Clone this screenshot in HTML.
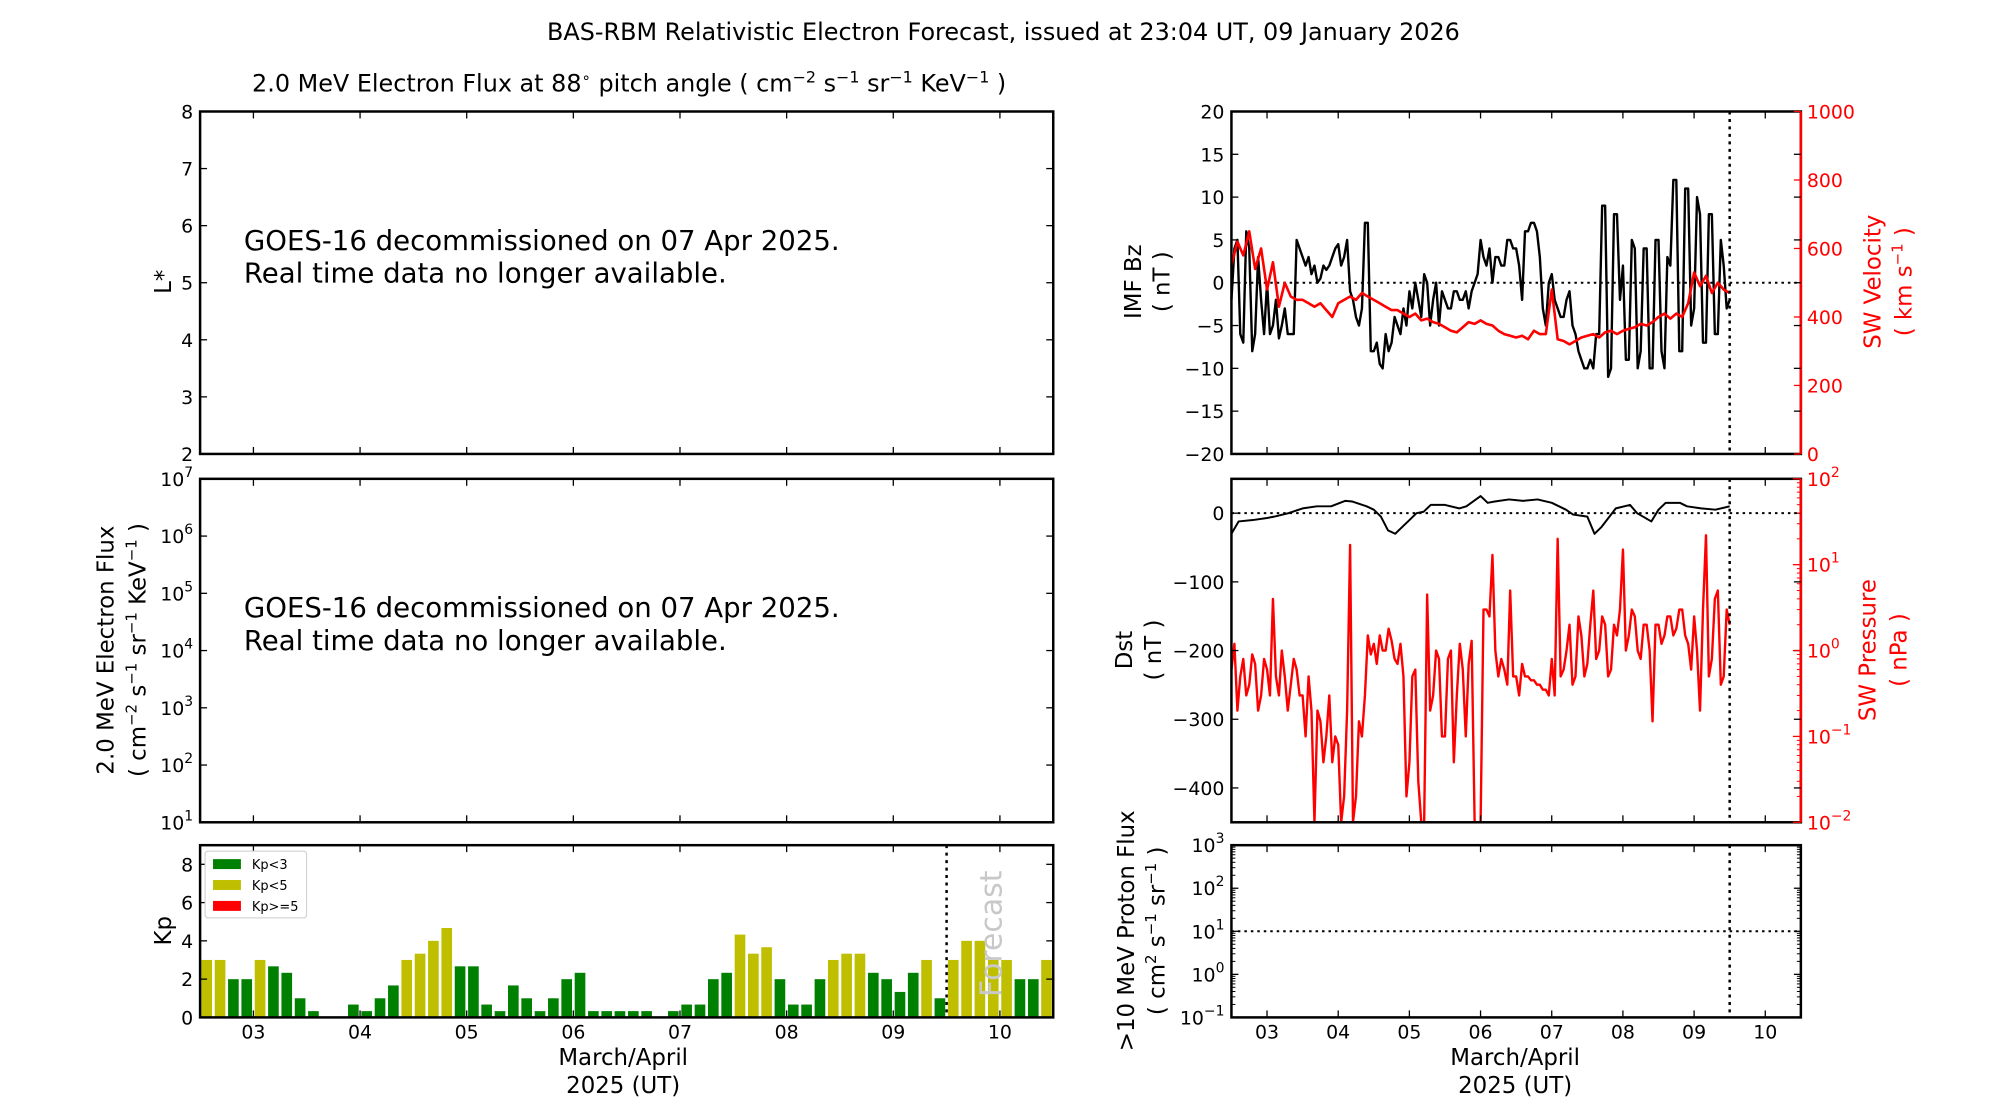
<!DOCTYPE html>
<html><head><meta charset="utf-8"><style>
html,body{margin:0;padding:0;background:#fff;}
svg{display:block;font-family:"DejaVu Sans","Liberation Sans",sans-serif;}
</style></head><body>
<svg id="fig" xmlns="http://www.w3.org/2000/svg" width="2000" height="1100" viewBox="0 0 2000 1100">
<rect width="2000" height="1100" fill="#fff"/>
<g transform="scale(0.9955)">
<text x="1008" y="40" font-size="24" text-anchor="middle">BAS-RBM Relativistic Electron Forecast, issued at 23:04 UT, 09 January 2026</text>
<text x="632" y="92" font-size="24" text-anchor="middle">2.0 MeV Electron Flux at 88<tspan dy="-9" font-size="15">∘</tspan><tspan dy="9"> pitch angle ( cm</tspan><tspan dy="-9" font-size="16">−2</tspan><tspan dy="9"> s</tspan><tspan dy="-9" font-size="16">−1</tspan><tspan dy="9"> sr</tspan><tspan dy="-9" font-size="16">−1</tspan><tspan dy="9"> KeV</tspan><tspan dy="-9" font-size="16">−1</tspan><tspan dy="9"> )</tspan></text>
<text x="245" y="251" font-size="27.7">GOES-16 decommissioned on 07 Apr 2025.</text>
<text x="245" y="284" font-size="27.7">Real time data no longer available.</text>
<text x="245" y="620" font-size="27.7">GOES-16 decommissioned on 07 Apr 2025.</text>
<text x="245" y="653" font-size="27.7">Real time data no longer available.</text>
<g id="g"></g>
</g>
</svg>
<script>
// ---- data ----
const kpValues=[3,3,2,2, 3,2.67,2.33,1,0.33,0,0,0.67, 0.33,1,1.67,3,3.33,4,4.67,2.67, 2.67,0.67,0.33,1.67,1,0.33,1,2, 2.33,0.33,0.33,0.33,0.33,0.33,0,0.33, 0.67,0.67,2,2.33,4.33,3.33,3.67,2, 0.67,0.67,2,3,3.33,3.33,2.33,2, 1.33,2.33,3,1, 3,4,4,3,3,2,2,3];
const dayTicks=['03','04','05','06','07','08','09','10'];
// hourly from day 2.5
const bzValues=[-2,4,5,-6,-7,6,4,-8,-6,3,-2,-6,
0,-6,-5,-2,-6.5,-5,-3,-6,-6,-6,5,4,
3,2,3,1,2,0,0.5,2,1.5,2,3,4,
4.5,2,3,5,-1,-2,-4,-5,-3,7,7,-8,
-8,-7,-9.5,-10,-6,-8,-7,-4,-5,-6,-3,-5,
-1,-3,0,-2,-4,1,0,-5,-2,0,-5,-1,
-2,-3,-3,-1,-1,-2,-2,-1,-3,-1,0,1,
5,3,2,4,0,3,3,2,2,5,5,4,
4,2,-2,6,6,7,7,6,3,-3,-5,0,
1,-2,-3,-4,-4,-2,-1,-5,-6,-8,-9,-10,
-10,-9,-10,-6,-6,9,9,-11,-10,8,8,-2,
2,-9,-9,5,4,-10,-8,4,4,-10,-10,5,
5,-8,-10,3,2,12,12,-8,-8,11,11,-5,
-3,10,8,-7,-7,8,8,-6,-6,5,2,-3,-2];
// 2-hourly from day 2.5
const swVelocity=[550,620,580,650,540,600, 480,560,430,500,460,450, 450,440,430,440,420,400, 440,450,460,450,470,460, 450,440,430,420,420,410, 400,410,390,395,385,380, 370,360,355,370,385,380, 390,380,375,360,350,345, 340,345,335,360,350,350, 480,335,330,320,330,340, 345,350,340,355,360,350, 360,365,370,380,375,385, 400,410,395,410,400,440, 530,490,520,470,500,480,470];
// hourly from day 2.5
const swPressure=[0.6,1.2,0.2,0.5,0.8,0.3,0.4,0.9,0.7,0.2,0.3,0.8,
0.6,0.3,4,0.5,0.3,1.0,0.5,0.2,0.4,0.8,0.6,0.3,
0.3,0.1,0.5,0.2,0.01,0.2,0.15,0.05,0.1,0.3,0.05,0.1,
0.08,0.01,0.02,0.2,17,0.01,0.02,0.15,0.1,0.3,1.5,0.9,
1.2,0.7,1.5,1.0,1.0,1.8,1.3,0.8,0.7,1.2,0.5,0.02,
0.05,0.5,0.6,0.03,0.01,0.01,4.5,0.2,0.3,1.0,0.8,0.1,
0.1,0.8,1.0,0.05,0.3,1.2,0.6,0.1,0.7,1.3,0.01,0.01,
0.01,3,3,2.5,13,1,0.5,0.8,0.6,0.4,5,0.5,
0.5,0.3,0.7,0.5,0.5,0.45,0.45,0.4,0.4,0.35,0.35,0.3,
0.8,0.3,20,0.5,0.6,1,2,0.4,0.5,2.5,1.5,0.5,
0.7,2,5,0.8,1.0,2.5,2,0.5,0.6,2,1.5,3,
15,1,1.5,3,2.5,1,0.8,2,2,1,0.15,2,
2,1.2,1.5,2.5,2.5,1.5,1.8,3,3,1.5,1.2,0.6,
2.5,1,0.2,3,22,0.5,0.8,4,5,0.4,0.5,3,2];
const dstTimes=[2.5,2.6,2.8,3.0,3.1,3.3,3.5,3.7,3.9,4.1,4.2,4.4,4.5,4.6,4.7,4.8,4.9,5.0,5.1,5.2,5.3,5.5,5.7,5.8,6.0,6.1,6.2,6.4,6.6,6.8,7.0,7.2,7.3,7.5,7.6,7.7,7.9,8.1,8.2,8.4,8.5,8.6,8.8,8.9,9.1,9.3,9.5];
const dstValues=[-30,-12,-10,-7,-5,0,7,10,10,18,17,10,5,-5,-25,-30,-20,-10,0,2,12,12,7,10,25,15,17,20,18,20,15,5,-2,-5,-30,-20,7,12,0,-12,5,15,15,10,7,5,10];
const kpColors={low:'#008000',mid:'#bfbf00',high:'#ff0000'};
// ---- layout / scales ----
const NS='http://www.w3.org/2000/svg';
const G=document.getElementById('g');
const LL=201,LR=1058,RL=1237,RR=1809;
const R1=[112,456],R2=[481,826],R3=[849,1022];
const T0=2.5,T1=10.5;
function xL(t){return LL+(t-T0)*(LR-LL)/(T1-T0);}
function xR(t){return RL+(t-T0)*(RR-RL)/(T1-T0);}
function yBz(v){return R1[0]+(20-v)*(R1[1]-R1[0])/40;}
function yV(v){return R1[1]-v*(R1[1]-R1[0])/1000;}
function yDst(v){return R2[0]+(50-v)*(R2[1]-R2[0])/500;}
function yP(v){return R2[0]+(2-Math.log10(v))*(R2[1]-R2[0])/4;}
function yPr(v){return R3[0]+(3-Math.log10(v))*(R3[1]-R3[0])/4;}
function yKp(v){return R3[1]-v*(R3[1]-R3[0])/9;}
function yLs(v){return R1[1]-(v-2)*(R1[1]-R1[0])/6;}
function yFl(e){return R2[1]-(e-1)*(R2[1]-R2[0])/6;}
function el(tag,attrs,parent){const e=document.createElementNS(NS,tag);for(const k in attrs)e.setAttribute(k,attrs[k]);(parent||G).appendChild(e);return e;}
function line(x1,y1,x2,y2,c,w,d){const e=el('line',{x1,y1,x2,y2,stroke:c||'#000','stroke-width':w||1.3});if(d)e.setAttribute('stroke-dasharray',d);return e;}
function txt(x,y,s,o){const e=el('text',Object.assign({x,y,'font-size':19},o||{}));e.textContent=s;return e;}
function frame(x1,x2,ys,name){const r=el('rect',{x:x1,y:ys[0],width:x2-x1,height:ys[1]-ys[0],fill:'none',stroke:'#000','stroke-width':2.5});}
function yTicks(x1,x2,ys,vals,fy,labFn,color,rightLab,rightColor){
  vals.forEach(v=>{const y=fy(v);line(x1,y,x1+7,y,'#000',1.3);line(x2-7,y,x2,y,rightColor||'#000',1.3);
    if(labFn){const t=el('text',{x:x1-7,y:y+7,'font-size':19,'text-anchor':'end',fill:color||'#000'});labFn(t,v);}});
}
function xTicks(fx,ys,labelY){
  for(let d=3;d<=10;d++){const x=fx(d);line(x,ys[1],x,ys[1]-7);line(x,ys[0],x,ys[0]+7);
    if(labelY){const t=txt(x,labelY,dayTicks[d-3],{'text-anchor':'middle'});}}
}
function plain(t,v){t.textContent=String(v).replace('-','−');}
function pow10(t,e){t.textContent='10';const s=el('tspan',{dy:-9,'font-size':14},t);s.textContent=String(e).replace('-','−');}
function vlabel(x,y,parts,color,name){const t=el('text',{x:0,y:0,'font-size':23,'text-anchor':'middle',fill:color||'#000',transform:`translate(${x},${y}) rotate(-90)`});
  parts.forEach(p=>{const s=el('tspan',p[1]?{dy:-9,'font-size':15}:{dy:p[2]||0},t);s.textContent=p[0];});
  return t;}
function polyline(pts,color,w,name){const p=el('polyline',{points:pts.map(a=>a[0].toFixed(1)+','+a[1].toFixed(1)).join(' '),fill:'none',stroke:color,'stroke-width':w,'stroke-linejoin':'round'});}

// ---- left panel 1: L* ----
frame(LL,LR,R1,'lstar-panel');
yTicks(LL,LR,R1,[2,3,4,5,6,7,8],yLs,plain);
xTicks(xL,R1,null);
vlabel(172,283,[['L*']],'#000','lstar-axis-title');
// ---- left panel 2: flux ----
frame(LL,LR,R2,'flux-panel');
yTicks(LL,LR,R2,[1,2,3,4,5,6,7],yFl,pow10);
xTicks(xL,R2,null);
vlabel(114,653,[['2.0 MeV Electron Flux']],'#000','flux-axis-title');
vlabel(146,653,[['( cm'],['−2',1],[' s',0,9],['−1',1],[' sr',0,9],['−1',1],[' KeV',0,9],['−1',1],[' )',0,9]],'#000','flux-axis-units');
// ---- Kp panel ----
const slot=(LR-LL)/(T1-T0)/8;
kpValues.forEach((v,i)=>{const t=T0+i/8;const x=xL(t)+slot*0.1;const c=v<3?kpColors.low:(v<5?kpColors.mid:kpColors.high);
  const r=el('rect',{x:x.toFixed(1),y:yKp(v).toFixed(1),width:(slot*0.8).toFixed(1),height:(yKp(0)-yKp(v)).toFixed(1),fill:c});
  
  });
frame(LL,LR,R3,'kp-panel');
yTicks(LL,LR,R3,[0,2,4,6,8],yKp,plain);
xTicks(xL,R3,1043);
line(xL(9.5),R3[0],xL(9.5),R3[1],'#000',2.5,'3,4.5');
const fc=el('text',{x:0,y:0,'font-size':30,fill:'#c8c8c8','text-anchor':'middle',transform:`translate(1006,938) rotate(-90)`});fc.textContent='Forecast';

vlabel(172,935,[['Kp']],'#000','kp-axis-title');
// legend
const lg=el('rect',{x:206,y:855,width:102,height:67,fill:'#fff',stroke:'#ccc','stroke-width':1,rx:3});

[['Kp<3',kpColors.low],['Kp<5',kpColors.mid],['Kp>=5',kpColors.high]].forEach((e,i)=>{const y=868+i*21;
  const r=el('rect',{x:214,y:y-5,width:28,height:10,fill:e[1]});
  const t=txt(253,y+5,e[0],{'font-size':13});});
txt(626,1070,'March/April',{'font-size':23,'text-anchor':'middle'});
txt(626,1098,'2025 (UT)',{'font-size':23,'text-anchor':'middle'});

// ---- right panel 1: Bz & V ----
line(RL,yBz(0),RR,yBz(0),'#000',2,'2.5,4');
polyline(bzValues.map((v,i)=>[xR(T0+i/24),yBz(v)]),'#000',2.4,'imf-bz-line');
polyline(swVelocity.map((v,i)=>[xR(T0+i/12),yV(v)]),'#ff0000',2.6,'sw-velocity-line');
line(xR(9.5),R1[0],xR(9.5),R1[1],'#000',2.5,'3,4.5');
frame(RL,RR,R1,'bz-panel');
line(RR,R1[0],RR,R1[1],'#ff0000',2.5);
yTicks(RL,RR,R1,[-20,-15,-10,-5,0,5,10,15,20],yBz,plain,'#000',null,'#000');
[0,200,400,600,800,1000].forEach(v=>{const y=yV(v);line(RR-7,y,RR,y,'#ff0000',1.3);const t=txt(RR+6,y+7,String(v),{fill:'#ff0000'});});
xTicks(xR,R1,null);
vlabel(1146,283,[['IMF Bz']],'#000','bz-axis-title');
vlabel(1175,283,[['( nT )']],'#000','bz-axis-units');
vlabel(1889,283,[['SW Velocity']],'#ff0000','velocity-axis-title');
vlabel(1920,283,[['( km s'],['−1',1],[' )',0,9]],'#ff0000','velocity-axis-units');

// ---- right panel 2: Dst & pressure ----
line(RL,yDst(0),RR,yDst(0),'#000',2,'2.5,4');
polyline(swPressure.map((v,i)=>[xR(T0+i/24),Math.min(yP(v),R2[1])]),'#ff0000',2.4,'sw-pressure-line');
polyline(dstTimes.map((t,i)=>[xR(t),yDst(dstValues[i])]),'#000',2,'dst-line');
line(xR(9.5),R2[0],xR(9.5),R2[1],'#000',2.5,'3,4.5');
frame(RL,RR,R2,'dst-panel');
line(RR,R2[0],RR,R2[1],'#ff0000',2.5);
yTicks(RL,RR,R2,[0,-100,-200,-300,-400],yDst,plain);
[-2,-1,0,1,2].forEach(e=>{const y=yP(Math.pow(10,e));line(RR-8,y,RR,y,'#ff0000',1.3);
  for(let m=2;m<10&&e<2;m++){const ym=yP(m*Math.pow(10,e));line(RR-4,ym,RR,ym,'#ff0000',1);}
  const t=el('text',{x:RR+6,y:y+7,'font-size':19,fill:'#ff0000'});pow10(t,e);});
xTicks(xR,R2,null);
vlabel(1137,653,[['Dst']],'#000','dst-axis-title');
vlabel(1166,653,[['( nT )']],'#000','dst-axis-units');
vlabel(1884,653,[['SW Pressure']],'#ff0000','pressure-axis-title');
vlabel(1915,653,[['( nPa )']],'#ff0000','pressure-axis-units');

// ---- right panel 3: proton ----
line(RL,yPr(10),RR,yPr(10),'#000',2,'2.5,4');
line(xR(9.5),R3[0],xR(9.5),R3[1],'#000',2.5,'3,4.5');
frame(RL,RR,R3,'proton-panel');
[-1,0,1,2,3].forEach(e=>{const y=yPr(Math.pow(10,e));line(RL,y,RL+7,y);line(RR-7,y,RR,y);
  for(let m=2;m<10&&e<3;m++){const ym=yPr(m*Math.pow(10,e));line(RL,ym,RL+4,ym,'#000',1);line(RR-4,ym,RR,ym,'#000',1);}
  const t=el('text',{x:RL-7,y:y+7,'font-size':19,'text-anchor':'end'});pow10(t,e);});
xTicks(xR,R3,1043);
vlabel(1139,935,[['>10 MeV Proton Flux']],'#000','proton-axis-title');
vlabel(1170,935,[['( cm'],['2',1],[' s',0,9],['−1',1],[' sr',0,9],['−1',1],[' )',0,9]],'#000','proton-axis-units');
txt(1522,1070,'March/April',{'font-size':23,'text-anchor':'middle'});
txt(1522,1098,'2025 (UT)',{'font-size':23,'text-anchor':'middle'});
</script>
</body></html>
